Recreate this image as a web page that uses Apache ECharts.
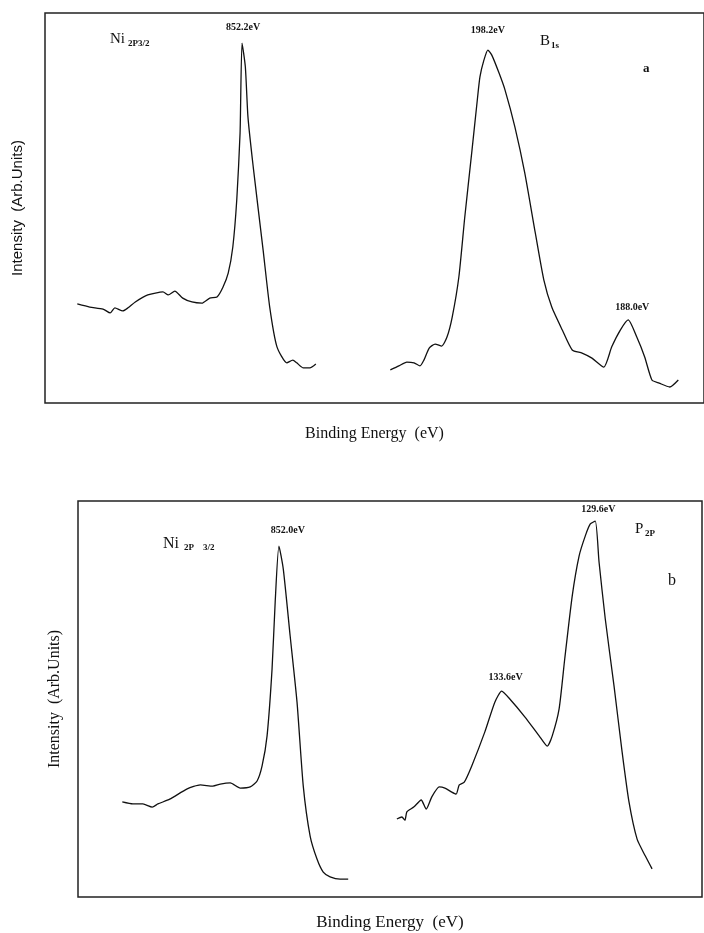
<!DOCTYPE html>
<html>
<head>
<meta charset="utf-8">
<style>
  html, body { margin: 0; padding: 0; background: #fff; }
  #chart { width: 704px; height: 933px; }
</style>
<script src="https://cdn.jsdelivr.net/npm/echarts@6.0.0/dist/echarts.min.js"></script>
</head>
<body>
<div id="chart"></div>
<script>
// x in arbitrary position units (0-100 across the frame), y intensity (arb. units, 0-100)
// panel a: Ni 2p3/2 region
var niAx = [4.9, 6.8, 8.8, 9.9, 10.6, 11.8, 12.6, 13.7, 15.6, 17.9, 18.7, 19.7, 20.9, 22.3, 23.8, 25.0, 26.1, 27.0, 27.8, 28.5, 29.1, 29.6, 29.9, 30.4, 30.8, 31.6, 33.1, 34.1, 35.2, 36.7, 37.6, 38.2, 39.2, 40.2, 41.1];
var niAy = [25.4, 24.6, 24.1, 23.1, 24.4, 23.6, 24.4, 25.9, 27.7, 28.5, 27.7, 28.7, 26.9, 25.9, 25.6, 26.9, 27.2, 29.7, 33.3, 40.0, 52.1, 69.2, 92.3, 86.2, 73.3, 60.5, 39.2, 24.6, 14.4, 10.3, 11.0, 10.3, 9.0, 9.0, 10.0];
// panel a: B 1s region
var bAx = [52.4, 53.7, 54.9, 56.0, 56.9, 57.5, 58.3, 59.2, 60.2, 61.0, 61.8, 62.8, 63.7, 64.8, 65.6, 66.0, 66.6, 67.2, 67.8, 68.9, 69.8, 71.3, 72.8, 74.4, 75.7, 76.9, 78.5, 80.0, 81.5, 83.0, 84.8, 86.0, 87.3, 88.5, 89.8, 91.0, 92.1, 93.2, 94.8, 96.1];
var bAy = [8.5, 9.5, 10.5, 10.3, 9.5, 11.0, 14.1, 15.1, 14.6, 16.9, 22.1, 32.3, 47.7, 64.9, 77.7, 83.6, 87.9, 90.5, 89.2, 84.6, 80.3, 70.8, 59.0, 43.6, 31.5, 24.6, 18.7, 13.6, 12.8, 11.5, 9.2, 14.4, 18.7, 21.3, 16.9, 11.8, 5.9, 5.1, 4.1, 5.9];
// panel b: Ni 2p3/2 region
var niBx = [7.1, 8.8, 10.4, 11.9, 12.8, 14.7, 17.5, 19.6, 21.6, 22.8, 24.4, 26.0, 27.6, 28.7, 29.5, 30.3, 31.1, 31.6, 32.2, 32.9, 34.0, 35.1, 36.1, 37.2, 38.3, 39.3, 40.4, 42.0, 43.3];
var niBy = [24.0, 23.5, 23.5, 22.7, 23.5, 24.7, 27.3, 28.3, 28.0, 28.5, 28.8, 27.5, 27.8, 29.3, 33.1, 40.7, 57.6, 74.5, 88.6, 82.8, 65.9, 49.2, 28.0, 15.4, 9.6, 6.3, 5.1, 4.5, 4.5];
// panel b: P 2p region
var pBx = [51.1, 51.9, 52.4, 52.7, 53.8, 55.0, 55.8, 56.7, 57.9, 58.8, 59.9, 60.6, 61.1, 61.9, 63.1, 65.2, 66.8, 67.9, 69.2, 71.6, 73.9, 75.2, 76.0, 77.1, 78.0, 79.2, 80.3, 81.3, 82.1, 82.9, 83.5, 84.5, 85.9, 87.2, 88.3, 89.6, 90.9, 92.0];
var pBy = [19.7, 20.2, 19.4, 21.5, 22.7, 24.5, 22.2, 25.3, 27.8, 27.5, 26.5, 26.0, 28.3, 29.0, 33.1, 41.7, 49.2, 52.0, 50.0, 45.5, 40.7, 38.1, 40.7, 47.5, 60.1, 76.0, 86.1, 91.2, 94.2, 94.9, 84.6, 70.2, 53.3, 36.6, 24.0, 14.6, 10.4, 7.1];

// peak annotations: [series, index of peak point, text]
var peakLabels = [
  ['niA', 22, '852.2eV'],
  ['bA', 17, '198.2eV'],
  ['bA', 33, '188.0eV'],
  ['niB', 18, '852.0eV'],
  ['pB', 17, '133.6eV'],
  ['pB', 29, '129.6eV']
];
var labelOffsets = [[1, -16], [0, -20], [4, -13], [9, -16], [4, -14], [3, -12]];

var xName = 'Binding Energy  (eV)';
var yName = 'Intensity  (Arb.Units)';

function zip(xs, ys) {
  return xs.map(function (x, i) { return [x, ys[i]]; });
}

var seriesData = {
  niA: zip(niAx, niAy),
  bA: zip(bAx, bAy),
  niB: zip(niBx, niBy),
  pB: zip(pBx, pBy)
};

function peakMarks(key) {
  var out = [];
  peakLabels.forEach(function (p, i) {
    if (p[0] !== key) return;
    out.push({
      coord: seriesData[key][p[1]],
      label: { formatter: p[2], offset: labelOffsets[i] }
    });
  });
  return out;
}

function spectrum(key, idx) {
  return {
    type: 'line',
    xAxisIndex: idx,
    yAxisIndex: idx,
    data: seriesData[key],
    showSymbol: false,
    smooth: 0.2,
    lineStyle: { color: '#111', width: 1.3 },
    markPoint: {
      symbol: 'circle',
      symbolSize: 1,
      itemStyle: { color: 'rgba(0,0,0,0)' },
      label: {
        show: true,
        position: 'inside',
        color: '#111',
        fontFamily: 'Liberation Serif',
        fontWeight: 'bold',
        fontSize: 10
      },
      data: peakMarks(key)
    }
  };
}

var chart = echarts.init(document.getElementById('chart'));

var hiddenAxis = {
  axisLine: { show: false },
  axisTick: { show: false },
  axisLabel: { show: false },
  splitLine: { show: false }
};

chart.setOption({
  animation: false,
  backgroundColor: '#fff',
  grid: [
    { left: 45, top: 13, right: -1, height: 390, show: true, borderColor: '#222', borderWidth: 1.5 },
    { left: 78, top: 501, right: 2, height: 396, show: true, borderColor: '#222', borderWidth: 1.5 }
  ],
  xAxis: [
    Object.assign({ type: 'value', gridIndex: 0, min: 0, max: 100, name: xName, nameLocation: 'middle', nameGap: 23,
      nameTextStyle: { fontFamily: 'Liberation Serif', fontSize: 16, color: '#111' } }, hiddenAxis),
    Object.assign({ type: 'value', gridIndex: 1, min: 0, max: 100, name: xName, nameLocation: 'middle', nameGap: 17,
      nameTextStyle: { fontFamily: 'Liberation Serif', fontSize: 17, color: '#111' } }, hiddenAxis)
  ],
  yAxis: [
    Object.assign({ type: 'value', gridIndex: 0, min: 0, max: 100, name: yName, nameLocation: 'middle', nameGap: 20,
      nameTextStyle: { fontFamily: 'Liberation Sans', fontSize: 15, color: '#111' } }, hiddenAxis),
    Object.assign({ type: 'value', gridIndex: 1, min: 0, max: 100, name: yName, nameLocation: 'middle', nameGap: 15,
      nameTextStyle: { fontFamily: 'Liberation Serif', fontSize: 16, color: '#111' } }, hiddenAxis)
  ],
  series: [
    spectrum('niA', 0),
    spectrum('bA', 0),
    spectrum('niB', 1),
    spectrum('pB', 1)
  ],
  graphic: [
    { type: 'text', left: 110, top: 32, style: { text: 'Ni', font: '15px "Liberation Serif"', fill: '#111' } },
    { type: 'text', left: 128, top: 39, style: { text: '2P3/2', font: 'bold 9px "Liberation Serif"', fill: '#111' } },
    { type: 'text', left: 540, top: 34, style: { text: 'B', font: '15px "Liberation Serif"', fill: '#111' } },
    { type: 'text', left: 551, top: 41, style: { text: '1s', font: 'bold 9px "Liberation Serif"', fill: '#111' } },
    { type: 'text', left: 643, top: 62, style: { text: 'a', font: 'bold 13px "Liberation Serif"', fill: '#111' } },
    { type: 'text', left: 163, top: 536, style: { text: 'Ni', font: '16px "Liberation Serif"', fill: '#111' } },
    { type: 'text', left: 184, top: 543, style: { text: '2P    3/2', font: 'bold 9px "Liberation Serif"', fill: '#111' } },
    { type: 'text', left: 635, top: 522, style: { text: 'P', font: '15px "Liberation Serif"', fill: '#111' } },
    { type: 'text', left: 645, top: 529, style: { text: '2P', font: 'bold 9px "Liberation Serif"', fill: '#111' } },
    { type: 'text', left: 668, top: 573, style: { text: 'b', font: '16px "Liberation Serif"', fill: '#111' } }
  ]
});
</script>
</body>
</html>
